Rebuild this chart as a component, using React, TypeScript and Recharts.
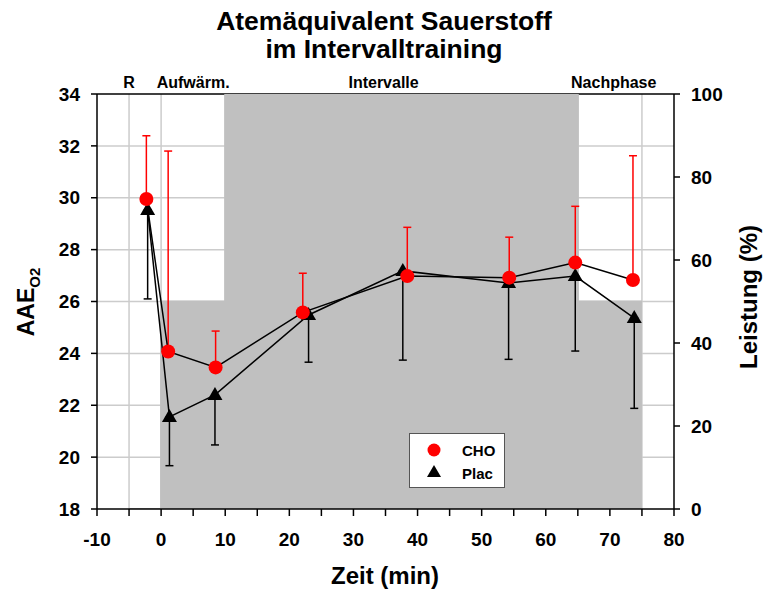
import React from 'react';
import {
  ComposedChart, Line, Area, XAxis, YAxis, CartesianGrid, ErrorBar, Legend,
} from 'recharts';

// ---- data ----
const choX = [-2.3, 1.1, 8.5, 22.1, 38.4, 54.3, 64.6, 73.6];
const choY = [29.95, 24.07, 23.46, 25.58, 26.98, 26.92, 27.5, 26.83];
const choErrUp = [2.44, 7.73, 1.4, 1.51, 1.88, 1.56, 2.17, 4.79];

const placX = [-2.1, 1.3, 8.4, 23.0, 37.7, 54.2, 64.6, 73.8];
const placY = [29.53, 21.55, 22.4, 25.48, 27.18, 26.71, 26.98, 25.36];
const placErrDown = [3.43, 1.88, 1.93, 1.82, 3.44, 2.94, 2.89, 3.48];

const powerX = [-5, 0, 10, 65, 75];
const powerPct = [0, 50, 100, 50, 50];

const xTicks = [-10, -5, 0, 5, 10, 15, 20, 25, 30, 35, 40, 45, 50, 55, 60, 65, 70, 75, 80];
const leftTicks = [18, 20, 22, 24, 26, 28, 30, 32, 34];
const rightTicks = [0, 20, 40, 60, 80, 100];
const phaseTicks = [-5, 5, 34.7, 70.6];
const phaseLabels = ['R', 'Aufwärm.', 'Intervalle', 'Nachphase'];
const gridX = [-5, 0, 10, 65, 75];

const choData = choX.map((x, i) => ({ x, y: choY[i], err: [0, choErrUp[i]] }));
const placData = placX.map((x, i) => ({ x, y: placY[i], err: [placErrDown[i], 0] }));
const powerData = powerX.map((x, i) => ({ x, p: powerPct[i] }));

const FONT = '"Liberation Sans", Arial, Helvetica, sans-serif';
const tickStyle = { fontSize: 19, fontWeight: 'bold', fill: '#000', fontFamily: FONT };

const Triangle = (props: any) => {
  const { cx, cy, index } = props;
  if (cx == null || cy == null) return <g key={`t-${index}`} />;
  return (
    <path
      key={`t-${index}`}
      d={`M${cx},${cy - 8} L${cx - 7.5},${cy + 5} L${cx + 7.5},${cy + 5} Z`}
      fill="#000"
    />
  );
};

const LegendBox = () => (
  <div style={{ width: 96, height: 55, boxSizing: 'border-box', border: '1px solid #555', background: '#fff' }}>
    <svg width={94} height={53} style={{ display: 'block' }}>
      <circle cx={24} cy={16} r={6.5} fill="#ff0000" />
      <text x={52} y={22} fontSize={15} fontWeight="bold" fontFamily={FONT} fill="#000">CHO</text>
      <path d="M24,31 L17,43 L31,43 Z" fill="#000" />
      <text x={52} y={45} fontSize={15} fontWeight="bold" fontFamily={FONT} fill="#000">Plac</text>
    </svg>
  </div>
);

export default function App() {
  return (
    <div style={{ position: 'absolute', left: 0, top: 0, width: 767, height: 589, background: '#fff' }}>
      <ComposedChart
        width={767}
        height={589}
        margin={{ top: 64, right: 20, bottom: 40, left: 37 }}
      >
        <CartesianGrid
          xAxisId="bottom"
          yAxisId="left"
          stroke="#cccccc"
          strokeWidth={1.5}
          horizontalValues={leftTicks.slice(1, -1)}
          verticalValues={gridX}
        />
        <CartesianGrid
          xAxisId="bottom"
          yAxisId="left"
          stroke="#000"
          strokeWidth={1.5}
          vertical={false}
          horizontalValues={[34]}
        />
        <XAxis
          xAxisId="bottom"
          type="number"
          dataKey="x"
          domain={[-10, 80]}
          ticks={xTicks}
          interval={0}
          allowDataOverflow
          tickFormatter={(v: number) => (v % 10 === 0 ? String(v) : '')}
          tick={tickStyle}
          tickSize={7}
          tickMargin={17}
          height={40}
          stroke="#000"
          axisLine={{ stroke: '#000', strokeWidth: 1.5 }}
          tickLine={{ stroke: '#000', strokeWidth: 1.5 }}
        />
        <XAxis
          xAxisId="top"
          orientation="top"
          type="number"
          dataKey="x"
          domain={[-10, 80]}
          ticks={phaseTicks}
          interval={0}
          allowDataOverflow
          tickFormatter={(v: number) => phaseLabels[phaseTicks.indexOf(v)] ?? ''}
          tick={{ fontSize: 16, fontWeight: 'bold', fill: '#000', fontFamily: FONT }}
          axisLine={false}
          tickLine={false}
          tickSize={0}
          tickMargin={6}
          height={30}
        />
        <YAxis
          yAxisId="left"
          type="number"
          domain={[18, 34]}
          ticks={leftTicks}
          interval={0}
          allowDataOverflow
          tick={tickStyle}
          tickSize={6}
          tickMargin={11}
          width={60}
          axisLine={{ stroke: '#000', strokeWidth: 1.5 }}
          tickLine={{ stroke: '#000', strokeWidth: 1.5 }}
        />
        <YAxis
          yAxisId="right"
          orientation="right"
          type="number"
          domain={[0, 100]}
          ticks={rightTicks}
          interval={0}
          allowDataOverflow
          tick={{ ...tickStyle, textAnchor: 'start' }}
          tickSize={6}
          tickMargin={11}
          width={73}
          axisLine={{ stroke: '#000', strokeWidth: 1.5 }}
          tickLine={{ stroke: '#000', strokeWidth: 1.5 }}
        />
        <Area
          data={powerData}
          xAxisId="bottom"
          yAxisId="right"
          dataKey="p"
          type="stepAfter"
          fill="#c0c0c0"
          fillOpacity={1}
          stroke="#c0c0c0"
          strokeWidth={2}
          isAnimationActive={false}
          dot={false}
          activeDot={false}
          legendType="none"
        />
        <Line
          data={placData}
          xAxisId="bottom"
          yAxisId="left"
          dataKey="y"
          name="Plac"
          type="linear"
          stroke="#000"
          strokeWidth={1.5}
          dot={Triangle}
          activeDot={false}
          isAnimationActive={false}
        >
          <ErrorBar dataKey="err" direction="y" width={4} stroke="#000" strokeWidth={1.5} />
        </Line>
        <Line
          data={choData}
          xAxisId="bottom"
          yAxisId="left"
          dataKey="y"
          name="CHO"
          type="linear"
          stroke="#000"
          strokeWidth={1.5}
          dot={{ r: 7, fill: '#ff0000', stroke: '#ff0000', strokeWidth: 0 }}
          activeDot={false}
          isAnimationActive={false}
        >
          <ErrorBar dataKey="err" direction="y" width={4} stroke="#ff0000" strokeWidth={1.5} />
        </Line>
        <Legend
          layout="horizontal"
          verticalAlign="middle"
          align="center"
          wrapperStyle={{ left: 409, top: 433, width: 96, height: 55 }}
          content={() => <LegendBox />}
        />
      </ComposedChart>
      <svg
        width={767}
        height={589}
        style={{ position: 'absolute', left: 0, top: 0, pointerEvents: 'none' }}
      >
        <text x={384} y={30} textAnchor="middle" fontSize={26.5} fontWeight="bold" fontFamily={FONT} fill="#000">
          Atemäquivalent Sauerstoff
        </text>
        <text x={384} y={58} textAnchor="middle" fontSize={26.5} fontWeight="bold" fontFamily={FONT} fill="#000">
          im Intervalltraining
        </text>
        <text
          transform="translate(34,302) rotate(-90)"
          textAnchor="middle"
          fontSize={23}
          fontWeight="bold"
          fontFamily={FONT}
          fill="#000"
        >
          AAE<tspan fontSize={15} dy={6}>O2</tspan>
        </text>
        <text
          transform="translate(757,297) rotate(-90)"
          textAnchor="middle"
          fontSize={24}
          fontWeight="bold"
          fontFamily={FONT}
          fill="#000"
        >
          Leistung (%)
        </text>
        <text x={385} y={584} textAnchor="middle" fontSize={24} fontWeight="bold" fontFamily={FONT} fill="#000">
          Zeit (min)
        </text>
      </svg>
    </div>
  );
}
